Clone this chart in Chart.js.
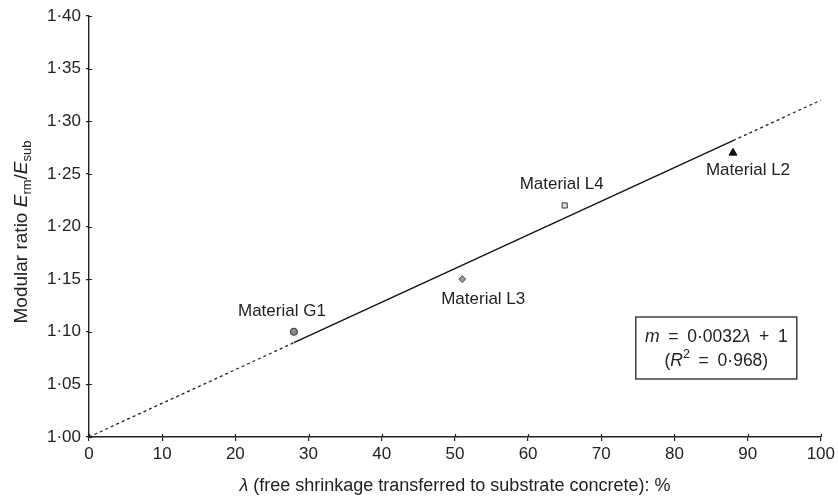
<!DOCTYPE html>
<html>
<head>
<meta charset="utf-8">
<script src="https://cdn.jsdelivr.net/npm/chart.js@4.4.1/dist/chart.umd.min.js"></script>
<style>
html,body{margin:0;padding:0;background:#fff;}
#wrap{width:838px;height:499px;position:relative;}
</style>
</head>
<body>
<div id="wrap"><canvas id="c" width="838" height="499"></canvas></div>
<script>
// ---- data ----
const materials = ['Material G1', 'Material L3', 'Material L4', 'Material L2'];
const lambdaValues = [28, 51, 65, 88];
const modularValues = [1.10, 1.15, 1.22, 1.27];
// fitted line m = 0.0032*lambda + 1 (solid over measured range, dotted outside)
const fitLambda = [0, 28, 88, 100];
const fitValues = [1.000, 1.0896, 1.2816, 1.320];

// ---- styles ----
const pointStyles = ['circle', 'rectRot', 'rect', 'triangle'];
const pointFills = ['#8a8a8a', '#9a9a9a', '#e4e4e4', '#111111'];
const pointBorders = ['#333333', '#444444', '#333333', '#111111'];
const pointRadii = [3.6, 3.4, 3.6, 4.6];
const labelDx = [-12, 21, -3, 15];
const labelDy = [-20, 20, -21, 17];

const TXT = '#222';
const FONT = '"Liberation Sans", Arial, sans-serif';
const FS = 17;
const SP = '\u2002';

function drawRuns(ctx, runs, cx, cy, baseSize) {
  let total = 0;
  const fs = baseSize || FS;
  runs.forEach(r => {
    ctx.font = (r.italic ? 'italic ' : '') + (r.size || fs) + 'px ' + FONT;
    r.w = ctx.measureText(r.t).width;
    total += r.w;
  });
  let x = cx - total / 2;
  ctx.textAlign = 'left';
  ctx.textBaseline = 'middle';
  runs.forEach(r => {
    ctx.font = (r.italic ? 'italic ' : '') + (r.size || fs) + 'px ' + FONT;
    ctx.fillText(r.t, x, cy + (r.dy || 0));
    x += r.w;
  });
}

const annotations = {
  id: 'annotations',
  afterDatasetsDraw(chart) {
    const ctx = chart.ctx;
    const xs = chart.scales.x, ys = chart.scales.y;
    const area = chart.chartArea;
    ctx.save();
    // inner tick stubs (ticks cross the axes)
    ctx.strokeStyle = '#222';
    ctx.lineWidth = 1.2;
    ctx.beginPath();
    xs.ticks.forEach(t => {
      const p = Math.round(xs.getPixelForValue(t.value)) + 0.5;
      ctx.moveTo(p, area.bottom); ctx.lineTo(p, area.bottom - 3);
    });
    ys.ticks.forEach(t => {
      const p = Math.round(ys.getPixelForValue(t.value)) + 0.5;
      ctx.moveTo(area.left, p); ctx.lineTo(area.left + 3, p);
    });
    ctx.stroke();

    ctx.fillStyle = TXT;
    // point labels
    ctx.font = FS + 'px ' + FONT;
    ctx.textAlign = 'center';
    ctx.textBaseline = 'middle';
    materials.forEach((m, i) => {
      const px = xs.getPixelForValue(lambdaValues[i]) + labelDx[i];
      const py = ys.getPixelForValue(modularValues[i]) + labelDy[i];
      ctx.fillText(m, px, py);
    });
    // equation box
    const bx = area.right - 185, by = area.bottom - 120, bw = 161, bh = 62;
    ctx.fillStyle = '#fff';
    ctx.fillRect(bx, by, bw, bh);
    ctx.strokeStyle = '#222';
    ctx.lineWidth = 1.3;
    ctx.strokeRect(bx, by, bw, bh);
    ctx.fillStyle = TXT;
    const cx = bx + bw / 2;
    drawRuns(ctx, [
      {t: 'm', italic: true},
      {t: SP + '=' + SP + '0·0032'},
      {t: 'λ', italic: true},
      {t: SP + '+' + SP + '1'}
    ], cx, by + 20, 17.5);
    drawRuns(ctx, [
      {t: '('},
      {t: 'R', italic: true},
      {t: '2', size: 12.5, dy: -6},
      {t: SP + '=' + SP + '0·968)'}
    ], cx, by + 44, 17.5);
    // x axis title
    drawRuns(ctx, [
      {t: 'λ', italic: true},
      {t: ' (free shrinkage transferred to substrate concrete): %'}
    ], (area.left + area.right) / 2, 486, 18);
    // y axis title
    ctx.translate(22, 232);
    ctx.rotate(-Math.PI / 2);
    drawRuns(ctx, [
      {t: 'Modular ratio '},
      {t: 'E', italic: true},
      {t: 'rm', size: 13, dy: 5},
      {t: '/'},
      {t: 'E', italic: true},
      {t: 'sub', size: 13, dy: 5}
    ], 0, 0, 19);
    ctx.restore();
  }
};

const fitSolid = [{x: fitLambda[1], y: fitValues[1]}, {x: fitLambda[2], y: fitValues[2]}];
const fitDotLow = [{x: fitLambda[0], y: fitValues[0]}, {x: fitLambda[1], y: fitValues[1]}];
const fitDotHigh = [{x: fitLambda[2], y: fitValues[2]}, {x: fitLambda[3], y: fitValues[3]}];

new Chart(document.getElementById('c'), {
  type: 'scatter',
  data: {
    datasets: [
      {
        type: 'line', data: fitSolid, borderColor: '#111', borderWidth: 1.4,
        pointRadius: 0, fill: false, tension: 0, order: 2
      },
      {
        type: 'line', data: fitDotLow, borderColor: '#222', borderWidth: 1.3,
        borderDash: [3, 3], pointRadius: 0, fill: false, tension: 0, order: 2
      },
      {
        type: 'line', data: fitDotHigh, borderColor: '#222', borderWidth: 1.3,
        borderDash: [3, 3], pointRadius: 0, fill: false, tension: 0, order: 2
      },
      {
        data: lambdaValues.map((v, i) => ({x: v, y: modularValues[i]})),
        pointStyle: pointStyles,
        backgroundColor: pointFills,
        borderColor: pointBorders,
        pointRadius: pointRadii,
        borderWidth: 1,
        order: 1
      }
    ]
  },
  options: {
    responsive: false,
    animation: false,
    devicePixelRatio: 1,
    layout: {padding: {top: 16, right: 16, left: 0, bottom: 0}},
    plugins: {legend: {display: false}, tooltip: {enabled: false}},
    scales: {
      x: {
        type: 'linear', min: 0, max: 100,
        afterFit(s) { s.height = 62; },
        ticks: {stepSize: 10, color: TXT, font: {family: FONT, size: FS}, padding: 3, maxRotation: 0},
        grid: {drawOnChartArea: false, drawTicks: true, tickLength: 4, color: '#222', lineWidth: 1.2},
        border: {display: true, color: '#222', width: 1.4}
      },
      y: {
        type: 'linear', min: 1.0, max: 1.4,
        afterFit(s) { s.width = 89; },
        ticks: {
          stepSize: 0.05, color: TXT, font: {family: FONT, size: FS}, padding: 5,
          callback: v => v.toFixed(2).replace('.', '·')
        },
        grid: {drawOnChartArea: false, drawTicks: true, tickLength: 3, color: '#222', lineWidth: 1.2},
        border: {display: true, color: '#222', width: 1.4}
      }
    }
  },
  plugins: [annotations]
});
</script>
</body>
</html>
